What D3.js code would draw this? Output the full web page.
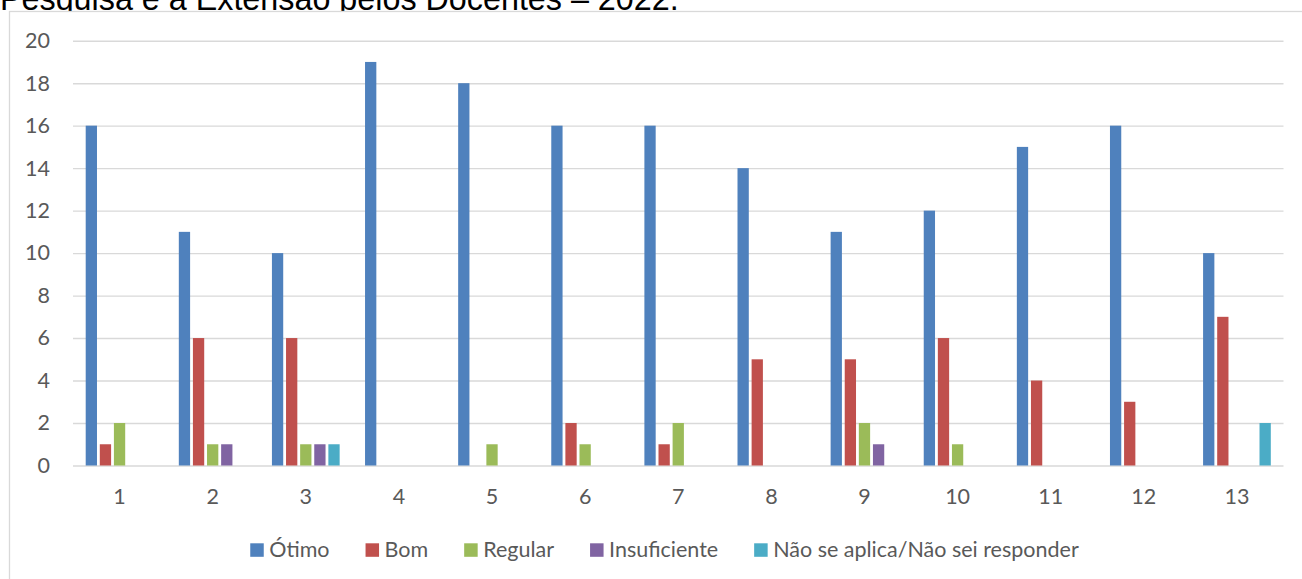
<!DOCTYPE html>
<html><head><meta charset="utf-8">
<script src="https://cdn.jsdelivr.net/npm/d3@7/dist/d3.min.js"></script>
<style>
html,body{margin:0;padding:0;background:#fff;overflow:hidden;}
svg{display:block;}
</style></head>
<body>
<svg id="c" width="1302" height="579"></svg>
<script>
const titleText = "Pesquisa e a Extensão pelos Docentes – 2022.";
const categories = ["1","2","3","4","5","6","7","8","9","10","11","12","13"];
const seriesNames = ["Ótimo","Bom","Regular","Insuficiente","Não se aplica/Não sei responder"];
const otimo        = [16,11,10,19,18,16,16,14,11,12,15,16,10];
const bom          = [1,6,6,0,0,2,1,5,5,6,4,3,7];
const regular      = [2,1,1,0,1,1,2,0,2,1,0,0,0];
const insuficiente = [0,1,1,0,0,0,0,0,1,0,0,0,0];
const naoSeAplica  = [0,0,1,0,0,0,0,0,0,0,0,0,2];
const yTicks = [0,2,4,6,8,10,12,14,16,18,20];
const colors = ["#4F81BD","#C0504D","#9BBB59","#8064A2","#4BACC6"];

const seriesValues = [otimo,bom,regular,insuficiente,naoSeAplica];
const FONT = "Lato, Carlito, 'Open Sans', sans-serif";
const FS = 21.5;

const svg = d3.select("#c");

// title (partly cut off at the top, as in the source)
svg.append("text").attr("x",0).attr("y",10)
  .attr("font-family","'Liberation Sans', Arial, sans-serif")
  .attr("font-size",32.3).attr("fill","#000").text(titleText);

// chart box
svg.append("rect").attr("x",9.5).attr("y",11.5).attr("width",1320).attr("height",620)
  .attr("fill","#fff").attr("stroke","#d9d9d9").attr("stroke-width",1.3);

const x0 = d3.scaleBand().domain(categories).range([73,1283.5]).padding(0);
const x1 = d3.scaleBand().domain(seriesNames).range([0,x0.bandwidth()])
  .paddingInner(0.2).paddingOuter(0.9);
const y = d3.scaleLinear().domain([0,20]).range([465.5,40.7]);

// gridlines + y labels
const yAxis = d3.axisLeft(y).tickValues(yTicks).tickSize(-(1283.5-73)).tickPadding(23).tickFormat(d3.format("d"));
const gy = svg.append("g").attr("transform","translate(73,0)").call(yAxis);
gy.select(".domain").remove();
gy.selectAll(".tick line").attr("stroke","#d9d9d9").attr("stroke-width",1.4);
gy.selectAll(".tick text").attr("font-family",FONT).attr("font-size",FS).attr("fill","#595959");

// bars
const groups = svg.append("g").selectAll("g").data(categories).join("g")
  .attr("transform",d=>`translate(${x0(d)},0)`);
groups.selectAll("rect").data((c,i)=>seriesNames.map((s,j)=>({s,j,v:seriesValues[j][i]})).filter(d=>d.v>0))
  .join("rect")
  .attr("x",d=>x1(d.s)).attr("width",x1.bandwidth())
  .attr("y",d=>y(d.v)).attr("height",d=>y(0)-y(d.v))
  .attr("fill",d=>colors[d.j]);

// x axis labels
const xAxis = d3.axisBottom(x0).tickSize(0).tickPadding(23);
const gx = svg.append("g").attr("transform","translate(0,465.5)").call(xAxis);
gx.select(".domain").remove();
gx.selectAll(".tick text").attr("font-family",FONT).attr("font-size",FS).attr("fill","#595959");

// legend
const leg = svg.append("g");
const items = leg.selectAll("g").data(seriesNames).join("g");
items.append("rect").attr("width",13.5).attr("height",13.5).attr("y",543.3).attr("fill",(d,i)=>colors[i]);
items.append("text").attr("x",19).attr("y",556.5).attr("font-family",FONT).attr("font-size",FS)
  .attr("fill","#595959").text(d=>d);
let widths = [];
items.each(function(){ widths.push(19 + d3.select(this).select("text").node().getComputedTextLength()); });
const gap = 36;
const total = d3.sum(widths) + gap*(widths.length-1);
let cx = 664.5 - total/2;
items.each(function(d,i){ d3.select(this).attr("transform",`translate(${cx},0)`); cx += widths[i] + gap; });
</script>
</body></html>
